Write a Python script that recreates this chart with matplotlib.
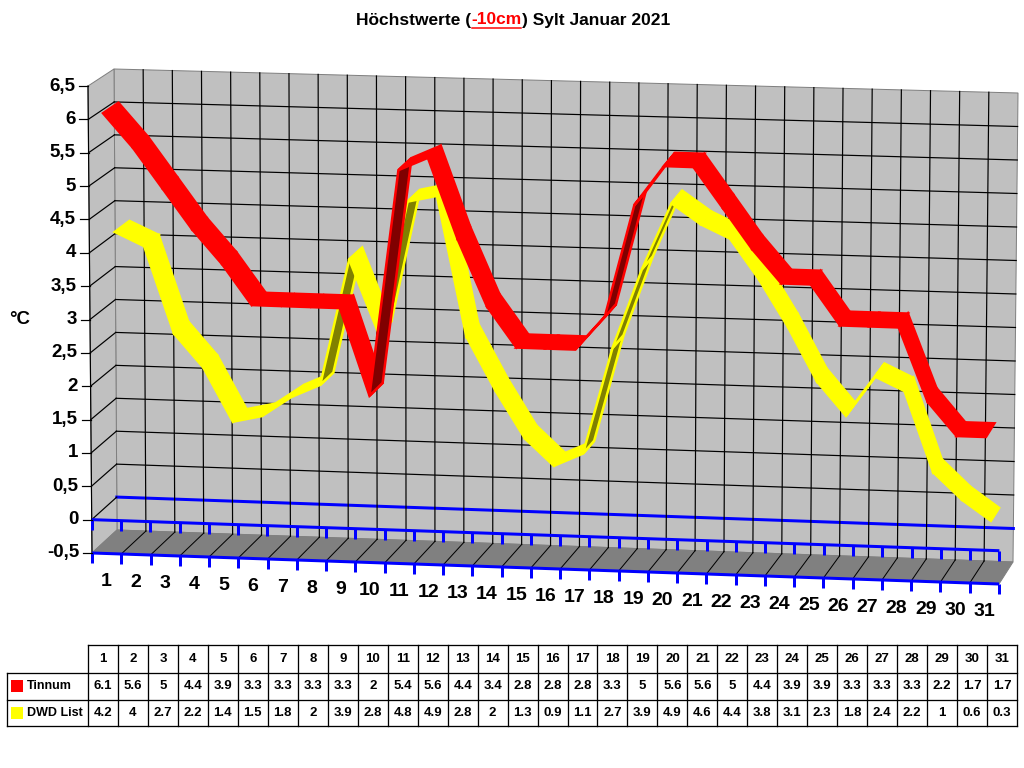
import numpy as np
import matplotlib.pyplot as plt
from matplotlib.patches import Polygon

plt.rcParams['font.family'] = ['Liberation Sans', 'DejaVu Sans']
plt.rcParams['font.weight'] = 'bold'

# data
days = list(range(1, 32))
tinnum = [6.1, 5.6, 5, 4.4, 3.9, 3.3, 3.3, 3.3, 3.3, 2, 5.4, 5.6, 4.4, 3.4, 2.8, 2.8,
          2.8, 3.3, 5, 5.6, 5.6, 5, 4.4, 3.9, 3.9, 3.3, 3.3, 3.3, 2.2, 1.7, 1.7]
dwd_list = [4.2, 4, 2.7, 2.2, 1.4, 1.5, 1.8, 2, 3.9, 2.8, 4.8, 4.9, 2.8, 2, 1.3, 0.9,
            1.1, 2.7, 3.9, 4.9, 4.6, 4.4, 3.8, 3.1, 2.3, 1.8, 2.4, 2.2, 1, 0.6, 0.3]
series_names = ['Tinnum', 'DWD List']
y_ticks = np.arange(-0.5, 6.51, 0.5)

V_MIN, V_MAX = -0.5, 6.5
N = len(days)

# corners of the 3D box in pixels (front plane z=0, back wall z=1)
FRONT = {'bl': (92, 553), 'tl': (88, 86), 'br': (999, 584), 'tr': (1004, 118)}
BACK = {'bl': (117, 530), 'tl': (114, 69), 'br': (1013, 562), 'tr': (1018, 93)}


def proj(k, v, z):
    u = k / N
    t = (v - V_MIN) / (V_MAX - V_MIN)

    def plane(c):
        left = (1 - t) * np.array(c['bl'], float) + t * np.array(c['tl'], float)
        right = (1 - t) * np.array(c['br'], float) + t * np.array(c['tr'], float)
        return (1 - u) * left + u * right
    return (1 - z) * plane(FRONT) + z * plane(BACK)


fig = plt.figure(figsize=(10.24, 7.68), dpi=100)
ax = fig.add_axes([0, 0, 1, 1])
ax.set_xlim(0, 1024)
ax.set_ylim(768, 0)
ax.axis('off')

PX = 0.72  # 1 pixel in points
wall = '#c0c0c0'
floor = '#808080'
blue = '#0000ff'

# back wall
ax.add_patch(Polygon([proj(0, V_MIN, 1), proj(N, V_MIN, 1), proj(N, V_MAX, 1), proj(0, V_MAX, 1)],
                     fc=wall, ec='#808080', lw=PX, zorder=1))
# left side wall
ax.add_patch(Polygon([proj(0, V_MIN, 0), proj(0, V_MIN, 1), proj(0, V_MAX, 1), proj(0, V_MAX, 0)],
                     fc=wall, ec='#808080', lw=PX, zorder=1))
# floor
ax.add_patch(Polygon([proj(0, V_MIN, 0), proj(N, V_MIN, 0), proj(N, V_MIN, 1), proj(0, V_MIN, 1)],
                     fc=floor, ec='#808080', lw=PX, zorder=1))

# gridlines on back wall and side wall
for v in y_ticks[1:]:
    a, b = proj(0, v, 1), proj(N, v, 1)
    c = proj(0, v, 0)
    if v == 0:
        ax.plot([a[0], b[0]], [a[1], b[1]], color=blue, lw=3 * PX, zorder=2)
    elif v < V_MAX:
        ax.plot([a[0], b[0]], [a[1], b[1]], color='black', lw=1.2 * PX, zorder=2)
    if v < V_MAX:
        ax.plot([c[0], a[0]], [c[1], a[1]], color='black', lw=1.2 * PX, zorder=2)
for k in range(1, N):
    a, b = proj(k, V_MIN, 1), proj(k, V_MAX, 1)
    ax.plot([a[0], b[0]], [a[1], b[1]], color='black', lw=1.2 * PX, zorder=2)
    c = proj(k, V_MIN, 0)
    ax.plot([c[0], a[0]], [c[1], a[1]], color='black', lw=1.0 * PX, zorder=2)
# front left edge of side wall
a, b = proj(0, V_MIN, 0), proj(0, V_MAX, 0)
ax.plot([a[0], b[0]], [a[1], b[1]], color='black', lw=1.2 * PX, zorder=3)

# front axis lines (blue, with tick marks)
for v in (0, V_MIN):
    a, b = proj(0, v, 0), proj(N, v, 0)
    ax.plot([a[0], b[0]], [a[1], b[1]], color=blue, lw=3 * PX, zorder=3, solid_capstyle='butt')
    for k in range(N + 1):
        p = proj(k, v, 0)
        ax.plot([p[0], p[0]], [p[1], p[1] + 10], color=blue, lw=3 * PX, zorder=3,
                solid_capstyle='butt')

# y axis ticks and labels
for v in y_ticks:
    p = proj(0, v, 0)
    ax.plot([p[0] - 9, p[0]], [p[1], p[1]], color='black', lw=1.2 * PX, zorder=3)
    ax.text(p[0] - 13, p[1], f'{v:g}'.replace('.', ','), ha='right', va='center',
            fontsize=13.5, fontweight='bold')
ax.text(20, 320, '°C', ha='center', va='center', fontsize=13.5, fontweight='bold')

# x labels
for i, d in enumerate(days):
    p = proj(i + 0.5, V_MIN, 0)
    ax.text(p[0], p[1] + 28, str(d), ha='center', va='center', fontsize=14, fontweight='bold')


# ribbons
def ribbon(values, z0, z1, color, dark, zo):
    for i in range(len(values) - 1):
        k0, k1 = i + 0.5, i + 1.5
        p0, p1 = proj(k0, values[i], z0), proj(k1, values[i + 1], z0)
        q1, q0 = proj(k1, values[i + 1], z1), proj(k0, values[i], z1)
        a, b = p1 - p0, q0 - p0
        cross = a[0] * b[1] - a[1] * b[0]
        fc = color if cross < 0 else dark
        ax.add_patch(Polygon([p0, p1, q1, q0], closed=True, fc=fc, ec=color,
                             lw=2.5 * PX, joinstyle='miter', zorder=zo + i * 0.01))


ribbon(dwd_list, 0.42, 1.0, '#ffff00', '#808000', 5)
ribbon(tinnum, 0.0, 0.6, '#ff0000', '#800000', 6)

# title with red underlined part
pieces = [('Höchstwerte (', 'black'), ('-10cm', 'red'), (') Sylt Januar 2021', 'black')]
renderer = fig.canvas.get_renderer()
texts = [ax.text(0, 20, s, color=c, fontsize=12.5, fontweight='bold', ha='left', va='center')
         for s, c in pieces]
widths = [t.get_window_extent(renderer).width for t in texts]
x = 513 - sum(widths) / 2
for t, w in zip(texts, widths):
    t.set_x(x)
    x += w
x_ul = texts[1].get_position()[0]
ax.plot([x_ul + 1, x_ul + widths[1] - 1], [28, 28], color='red', lw=1.5 * PX)

# data table
col_x0, col_w = 88, 29.97
row_y = [645, 672.5, 700, 726]
tab_right = col_x0 + N * col_w
lw_t = 1.3 * PX
ax.plot([col_x0, tab_right], [row_y[0], row_y[0]], color='black', lw=lw_t)
for y in row_y[1:]:
    ax.plot([7, tab_right], [y, y], color='black', lw=lw_t)
ax.plot([7, 7], [row_y[1], row_y[3]], color='black', lw=lw_t)
for i in range(N + 1):
    xx = col_x0 + i * col_w
    ax.plot([xx, xx], [row_y[0], row_y[3]], color='black', lw=lw_t)
for i, d in enumerate(days):
    xc = col_x0 + (i + 0.5) * col_w
    ax.text(xc, (row_y[0] + row_y[1]) / 2, str(d), ha='center', va='center', fontsize=9.5,
            fontweight='bold')
    for r, vals in enumerate((tinnum, dwd_list)):
        ax.text(xc, (row_y[r + 1] + row_y[r + 2]) / 2, f'{vals[i]:g}', ha='center',
                va='center', fontsize=9.5, fontweight='bold')
for r, (name, c) in enumerate(zip(series_names, ('#ff0000', '#ffff00'))):
    yc = (row_y[r + 1] + row_y[r + 2]) / 2
    ax.add_patch(Polygon([(11, yc - 6), (23, yc - 6), (23, yc + 6), (11, yc + 6)], fc=c, ec='none'))
    ax.text(27, yc, name, ha='left', va='center', fontsize=9, fontweight='bold')

fig.savefig('out.png', dpi=100)
